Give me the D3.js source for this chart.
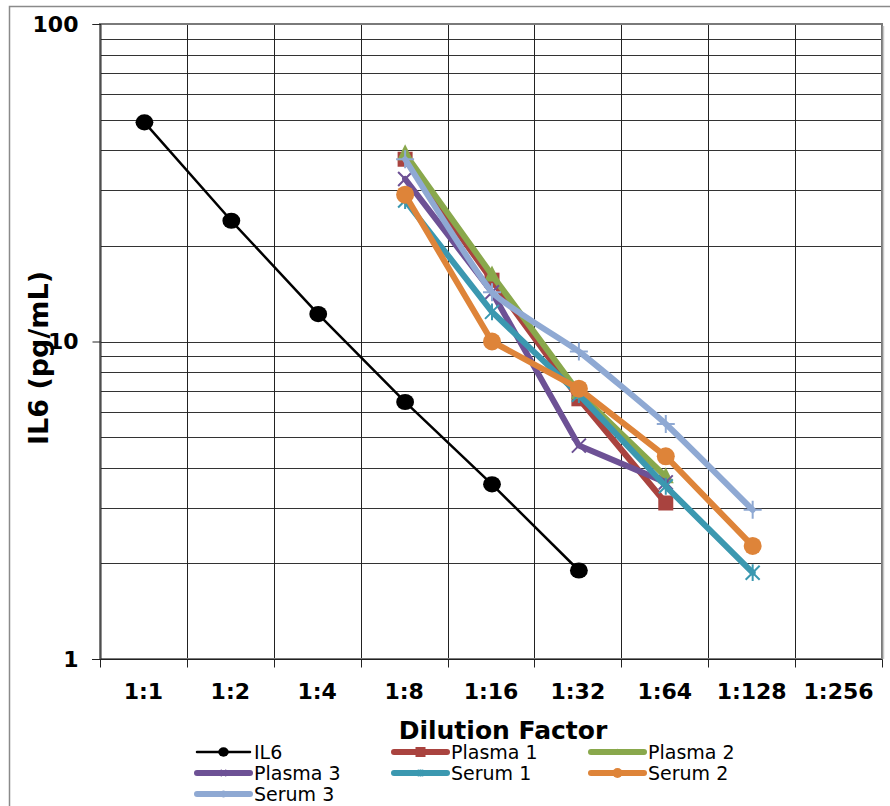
<!DOCTYPE html>
<html>
<head>
<meta charset="utf-8">
<script src="https://cdn.jsdelivr.net/npm/d3@7"></script>
<style>
  body { margin: 0; background: #fff; }
  text { font-family: "DejaVu Sans", Verdana, sans-serif; }
</style>
</head>
<body>
<script>
// dilution categories along x
var categories = ["1:1", "1:2", "1:4", "1:8", "1:16", "1:32", "1:64", "1:128", "1:256"];

// IL6 (pg/mL) per category, null = not measured
var il6     = [49, 24, 12.2, 6.45, 3.55, 1.9, null, null, null];
var plasma1 = [null, null, null, 37.5, 15.6, 6.6, 3.1, null, null];
var plasma2 = [null, null, null, 39, 16.2, 6.9, 3.75, null, null];
var plasma3 = [null, null, null, 32.5, 14.3, 4.7, 3.6, null, null];
var serum1  = [null, null, null, 27.8, 12.4, 6.8, 3.5, 1.87, null];
var serum2  = [null, null, null, 29, 10, 7.1, 4.35, 2.27, null];
var serum3  = [null, null, null, 37.5, 14.3, 9.3, 5.5, 2.95, null];

var seriesNames = ["IL6", "Plasma 1", "Plasma 2", "Plasma 3", "Serum 1", "Serum 2", "Serum 3"];
var seriesValues = [il6, plasma1, plasma2, plasma3, serum1, serum2, serum3];
var yTicks = [1, 10, 100];

var colors = ["#000000", "#A9433F", "#89A84C", "#6D5195", "#3B98B0", "#DE8439", "#8FA9D3"];
var markers = ["dot", "square", "triangle", "x", "star", "circle", "plus"];

var W = 890, H = 806;
var pLeft = 100, pRight = 882, pTop = 24, pBottom = 659;

var svg = d3.select("body").append("svg")
    .attr("width", W)
    .attr("height", H);

// outer chart border (left and top edges visible)
svg.append("path")
    .attr("d", "M9.5," + H + "V6.5H" + W)
    .attr("fill", "none")
    .attr("stroke", "#8a8a8a")
    .attr("stroke-width", 1.5);

var x = d3.scaleBand().domain(categories).range([pLeft, pRight]);
var y = d3.scaleLog().domain([1, 100]).range([pBottom, pTop]);

function crisp(v) { return Math.round(v) + 0.5; }
function xMid(c) { return x(c) + x.bandwidth() / 2 + 1; }

// horizontal gridlines at every log minor step
var grid = svg.append("g");
var minor = y.ticks(10).filter(function (d) { return d > 1 && d < 100; });
grid.selectAll("line.h")
    .data(minor)
  .enter().append("line")
    .attr("x1", pLeft).attr("x2", pRight)
    .attr("y1", function (d) { return crisp(y(d)); })
    .attr("y2", function (d) { return crisp(y(d)); })
    .attr("stroke", "#333")
    .attr("stroke-width", 1.2);

// vertical gridlines at category boundaries
grid.selectAll("line.v")
    .data(categories.slice(1))
  .enter().append("line")
    .attr("y1", pTop).attr("y2", pBottom)
    .attr("x1", function (d) { return crisp(x(d)); })
    .attr("x2", function (d) { return crisp(x(d)); })
    .attr("stroke", "#222")
    .attr("stroke-width", 1);

// plot area border
svg.append("rect")
    .attr("x", pLeft).attr("y", pTop)
    .attr("width", pRight - pLeft).attr("height", pBottom - pTop)
    .attr("fill", "none")
    .attr("stroke", "#7a7a7a")
    .attr("stroke-width", 2);
svg.append("line")
    .attr("x1", pRight + 1.5).attr("x2", pRight + 1.5)
    .attr("y1", pTop + 2).attr("y2", pBottom)
    .attr("stroke", "#c8c8c8").attr("stroke-width", 1.5);

// y axis
var yAxis = svg.append("g")
    .attr("transform", "translate(" + (pLeft + 0.5) + ",0)")
    .call(d3.axisLeft(y).tickValues(yTicks).tickFormat(d3.format("d")).tickSize(8).tickPadding(14));
yAxis.select(".domain").attr("stroke", "#222");
yAxis.selectAll(".tick line").attr("stroke", "#222");
yAxis.selectAll("text")
    .attr("font-family", "DejaVu Sans, Verdana, sans-serif")
    .attr("font-size", 22)
    .attr("font-weight", "bold")
    .attr("fill", "#000");

// x axis: ticks at band edges, labels at centres
var xAxis = svg.append("g")
    .attr("transform", "translate(0," + (pBottom + 0.5) + ")");
xAxis.append("line")
    .attr("x1", pLeft - 8).attr("x2", pRight)
    .attr("stroke", "#222");
xAxis.selectAll("line.tk")
    .data(categories.concat(["end"]))
  .enter().append("line")
    .attr("x1", function (d, i) { return crisp(pLeft + i * x.bandwidth()); })
    .attr("x2", function (d, i) { return crisp(pLeft + i * x.bandwidth()); })
    .attr("y1", 0).attr("y2", 8)
    .attr("stroke", "#222");
xAxis.selectAll("text")
    .data(categories)
  .enter().append("text")
    .attr("x", function (d) { return x(d) + x.bandwidth() / 2; })
    .attr("y", 39)
    .attr("text-anchor", "middle")
    .attr("font-size", 22)
    .attr("font-weight", "bold")
    .text(function (d) { return d; });

// axis titles
svg.append("text")
    .attr("x", 503)
    .attr("y", 739)
    .attr("text-anchor", "middle")
    .attr("font-size", 25)
    .attr("font-weight", "bold")
    .text("Dilution Factor");
svg.append("text")
    .attr("transform", "translate(48,358) rotate(-90)")
    .attr("text-anchor", "middle")
    .attr("font-size", 27)
    .attr("font-weight", "bold")
    .text("IL6 (pg/mL)");

// marker drawing
function drawMarker(g, type, color, s) {
  if (type === "dot") {
    g.append("ellipse").attr("rx", s * 1.05).attr("ry", s * 0.95).attr("fill", color);
  } else if (type === "circle") {
    g.append("circle").attr("r", s).attr("fill", color);
  } else if (type === "square") {
    g.append("rect").attr("x", -s).attr("y", -s).attr("width", 2 * s).attr("height", 2 * s).attr("fill", color);
  } else if (type === "triangle") {
    g.append("path").attr("d", "M0," + (-s * 1.2) + "L" + s + "," + (s * 0.8) + "L" + (-s) + "," + (s * 0.8) + "Z").attr("fill", color);
  } else if (type === "x") {
    g.append("path").attr("d", "M" + (-s) + "," + (-s) + "L" + s + "," + s + "M" + s + "," + (-s) + "L" + (-s) + "," + s)
      .attr("stroke", color).attr("stroke-width", 2).attr("fill", "none");
  } else if (type === "star") {
    g.append("path").attr("d", "M" + (-s) + "," + (-s) + "L" + s + "," + s + "M" + s + "," + (-s) + "L" + (-s) + "," + s + "M0," + (-s * 1.2) + "V" + (s * 1.2))
      .attr("stroke", color).attr("stroke-width", 2).attr("fill", "none");
  } else if (type === "plus") {
    g.append("path").attr("d", "M" + (-s * 1.2) + ",0H" + (s * 1.2) + "M0," + (-s * 1.2) + "V" + (s * 1.2))
      .attr("stroke", color).attr("stroke-width", 2).attr("fill", "none");
  }
}

var markerSize = [8.5, 7.5, 8, 7, 7, 9, 7.5];

// series lines and markers, in series order
seriesValues.forEach(function (vals, si) {
  var pts = categories.map(function (c, i) { return { c: c, v: vals[i] }; })
    .filter(function (p) { return p.v != null; });
  var line = d3.line()
      .x(function (p) { return xMid(p.c); })
      .y(function (p) { return y(p.v); })
      .curve(si === 6 ? d3.curveCardinal.tension(0.6) : d3.curveLinear);
  var g = svg.append("g");
  g.append("path")
      .attr("d", line(pts))
      .attr("fill", "none")
      .attr("stroke", colors[si])
      .attr("stroke-width", si === 0 ? 2.5 : 6)
      .attr("stroke-linejoin", "round")
      .attr("stroke-linecap", "round");
  pts.forEach(function (p) {
    var mg = g.append("g")
        .attr("transform", "translate(" + xMid(p.c) + "," + y(p.v) + ")");
    drawMarker(mg, markers[si], colors[si], markerSize[si]);
  });
});

// legend, three columns
var legend = svg.append("g");
seriesNames.forEach(function (name, i) {
  var col = i % 3, row = Math.floor(i / 3);
  var lx = 197 + col * 197, ly = 752 + row * 21;
  var g = legend.append("g").attr("transform", "translate(" + lx + "," + ly + ")");
  g.append("line")
      .attr("x1", 0).attr("x2", 53)
      .attr("stroke", colors[i])
      .attr("stroke-width", i === 0 ? 2.5 : 6)
      .attr("stroke-linecap", "round");
  var mg = g.append("g").attr("transform", "translate(26.5,0)");
  drawMarker(mg, markers[i], colors[i], i === 0 ? 5 : (markers[i] === "circle" || markers[i] === "square" ? 5 : 3));
  g.append("text")
      .attr("x", 57)
      .attr("y", 7)
      .attr("font-size", 19)
      .text(name);
});
</script>
</body>
</html>
